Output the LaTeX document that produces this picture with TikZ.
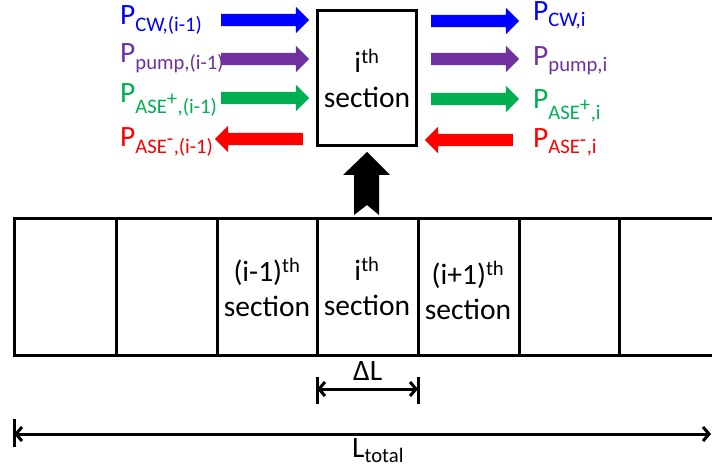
\documentclass[tikz,border=0pt]{standalone}
\usepackage{amsmath}
\usepackage{fontspec}
\setmainfont{Carlito}
\usetikzlibrary{arrows.meta,shapes.arrows,positioning}
\definecolor{cwblue}{RGB}{0,0,255}
\definecolor{pumpvio}{RGB}{112,48,160}
\definecolor{asegrn}{RGB}{0,176,80}
\definecolor{asered}{RGB}{255,0,0}

\begin{document}
\begin{tikzpicture}[x=1bp,y=-1bp,
   every node/.style={font=\fontsize{29.5bp}{35bp}\selectfont},
   blk/.style={single arrow,minimum height=88bp,inner xsep=0pt,inner ysep=6bp,
     single arrow head extend=7bp,draw=none},
   lab/.style={anchor=base west,inner sep=0pt},
   sec/.style={align=center,inner sep=0pt},
   thk/.style={line width=3bp},
   dim/.style={line width=3bp,{Straight Barb[length=6bp,width=14bp]}-{Straight Barb[length=6bp,width=14bp]}}]
  \useasboundingbox (0,0) rectangle (712,470);
  % single section with its inputs and outputs
  \node[draw,thk,minimum width=99bp,minimum height=135bp,sec] (box) at (367,78) {i$^{\text{th}}$\\section};
  \node[blk,fill=cwblue] (cwin) at (262,20) {};
  \node[blk,fill=pumpvio] (pumpin) at (262,59) {};
  \node[blk,fill=asegrn] (asepin) at (262,98) {};
  \node[blk,fill=asered,shape border rotate=180] (asemin) at (262,139) {};
  \node[blk,fill=cwblue] (cwout) at (472,21) {};
  \node[blk,fill=pumpvio] (pumpout) at (472,59) {};
  \node[blk,fill=asegrn] (asepout) at (472,99) {};
  \node[blk,fill=asered,shape border rotate=180] (asemout) at (472,140) {};
  \node[lab,text=cwblue] (lcw) at (120,25) {P$_{\text{CW,(i-1)}}$};
  \node[lab,text=pumpvio] (lpump) at (120,63) {P$_{\text{pump,(i-1)}}$};
  \node[lab,text=asegrn] (lasep) at (120,103) {P$_{\text{ASE}^{\scriptstyle\text{+}}\text{,(i-1)}}$};
  \node[lab,text=asered] (lasem) at (120,147) {P$_{\text{ASE}^{\scriptstyle\text{-}}\text{,(i-1)}}$};
  \node[lab,text=cwblue] (rcw) at (533,21) {P$_{\text{CW,i}}$};
  \node[lab,text=pumpvio] (rpump) at (533,66) {P$_{\text{pump,i}}$};
  \node[lab,text=asegrn] (rasep) at (533,109) {P$_{\text{ASE}^{\scriptstyle\text{+}}\text{,i}}$};
  \node[lab,text=asered] (rasem) at (533,148) {P$_{\text{ASE}^{\scriptstyle\text{-}}\text{,i}}$};
  % notched arrow up to the box
  \fill (354,215) -- (367,205) -- (379,215) -- (379,175) -- (390,175) -- (367,152) -- (343,175) -- (354,175) -- cycle;
  % fibre divided into sections
  \draw[thk] (712,219) -- (14,219) -- (14,355) -- (712,355);
  \foreach \x in {116,217,317,418,519,619}
    \draw[thk] (\x,219) -- (\x,355);
  \node[sec] (secm) at (267,287) {(i-1)$^{\text{th}}$\\section};
  \node[sec] (seci) at (367,286) {i$^{\text{th}}$\\section};
  \node[sec] (secp) at (468,290) {(i+1)$^{\text{th}}$\\section};
  % lengths
  \coordinate (dla) at (317,389);
  \coordinate (dlb) at (418,389);
  \draw[dim] (dla) -- (dlb);
  \draw[thk] (317,377) -- (317,404);
  \draw[thk] (418,377) -- (418,404);
  \node[lab] (dl) at (353,380) {ΔL};
  \coordinate (lta) at (14,434);
  \coordinate (ltb) at (711,434);
  \draw[dim] (lta) -- (ltb);
  \draw[thk] (14,419) -- (14,447);
  \node[lab] (lt) at (352,457) {L$_{\text{total}}$};
\end{tikzpicture}
\end{document}
